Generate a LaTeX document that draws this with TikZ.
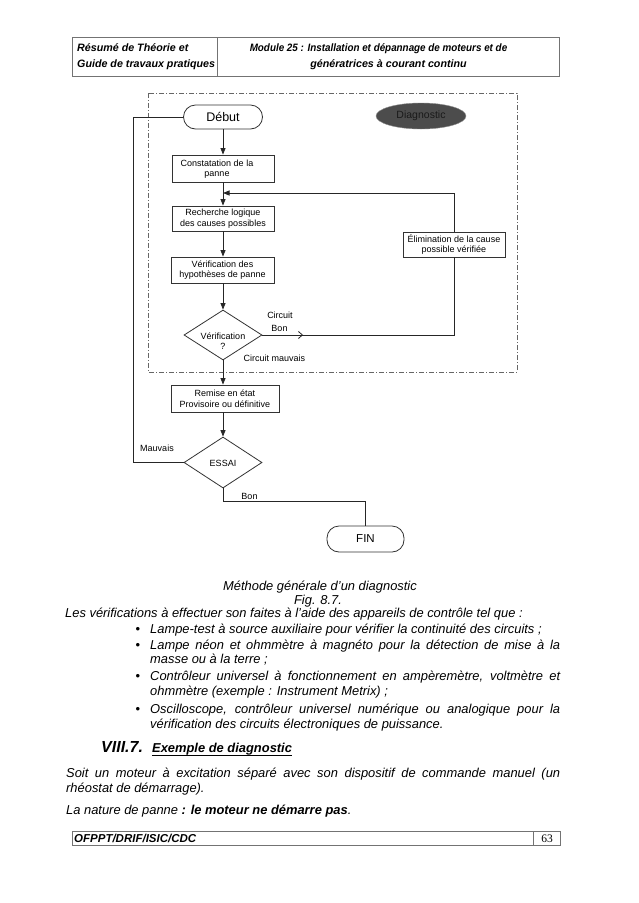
\documentclass[tikz,border=0pt]{standalone}
\usepackage{fontspec}
\setmainfont{Liberation Sans}
\newfontfamily\serifnum{Liberation Serif}
\usetikzlibrary{arrows.meta,shapes.geometric,decorations.markings}
\begin{document}
\begin{tikzpicture}[x=1pt,y=-1pt,
  frameline/.style={draw=black!55,line width=0.7pt},
  box/.style={draw=black!80,line width=0.8pt,align=center,inner sep=1pt,font=\fontsize{9}{10.5}\selectfont},
  term/.style={draw=black!80,line width=0.8pt,rounded corners=12pt,inner sep=0pt},
  dec/.style={diamond,draw=black!80,line width=0.8pt,inner sep=0pt},
  conn/.style={black!85,line width=0.8pt},
  arr/.style={conn,-{Triangle[length=6.5pt,width=5pt]}},
  lbl/.style={font=\fontsize{9}{10.5}\selectfont,inner sep=0pt,align=center},
  body/.style={anchor=base west,inner sep=0pt,font=\fontsize{12.9}{14.5}\selectfont\itshape},
  bodyc/.style={anchor=base,inner sep=0pt,font=\fontsize{12.9}{14.5}\selectfont\itshape},
  hdr/.style={inner sep=0pt,font=\fontsize{10.7}{12}\selectfont\bfseries\itshape},
  bul/.style={anchor=base,inner sep=0pt,font=\fontsize{13}{13}\selectfont},
  midchev/.style={postaction={decorate},decoration={markings,
     mark=at position 40pt with {\draw[conn] (-4pt,-3.5pt) -- (0pt,0pt) -- (-4pt,3.5pt);}}}
]
\useasboundingbox (0,0) rectangle (638,903);
\fill[white] (0,0) rectangle (638,903);

% ---------- header ----------
\draw[frameline] (72,37) rectangle (559,76);
\draw[frameline] (217,37) -- (217,76);
\node[hdr,anchor=base west] (h1) at (77,51) {Résumé de Théorie et};
\node[hdr,anchor=base west] (h2) at (77,67) {Guide de travaux pratiques};
\node[hdr,anchor=base] (h3) at (378.5,51) {\scalebox{0.92}[1]{Module 25 : Installation et dépannage de moteurs et de}};
\node[hdr,anchor=base] (h4) at (388.5,67) {génératrices à courant continu};

% ---------- flowchart ----------
\draw[black!60,line width=0.8pt,dash pattern=on 5pt off 2pt on 1pt off 2pt] (148,93) rectangle (517,372);

\node[term,minimum width=79pt,minimum height=24pt,font=\fontsize{12.5}{13}\selectfont] (deb) at (223,117) {Début};
\node[ellipse,fill=black!70,draw=black!45,minimum width=90pt,minimum height=26pt,inner sep=0pt,text=black!90,font=\fontsize{10.5}{11}\selectfont] (diag) at (421,116) {Diagnostic};

\node[box,minimum width=102pt,minimum height=27pt] (cons) at (223,168.5) {};
\node[lbl] (consT) at (217,169) {Constatation de la\\panne};
\node[box,minimum width=102pt,minimum height=25pt] (rech) at (223,218.5) {Recherche logique\\des causes possibles};
\node[box,minimum width=102pt,minimum height=25pt] (elim) at (454,244.5) {Élimination de la cause\\possible vérifiée};
\node[box,minimum width=103pt,minimum height=26pt] (hyp) at (222.5,270) {Vérification des\\hypothèses de panne};
\node[dec,minimum width=78pt,minimum height=50pt] (vd) at (223,335) {};
\node[lbl] (vdT) at (223,341) {Vérification\\?};
\node[box,minimum width=108pt,minimum height=27pt] (rem) at (225,398.5) {Remise en état\\Provisoire ou définitive};
\node[dec,minimum width=78pt,minimum height=51pt] (ess) at (223,462.5) {};
\node[lbl] (essT) at (223,463) {ESSAI};
\node[term,minimum width=77pt,minimum height=26pt,font=\fontsize{11.5}{12}\selectfont] (fin) at (365.5,539) {FIN};

\coordinate (fb) at (223,193);
\coordinate (lft) at (133,462.5);
\coordinate (bonc) at (223,501);

\draw[arr] (deb.south) -- (cons.north);
\draw[arr] (cons.south) -- (rech.north);
\draw[arr] (rech.south) -- (rech.south |- hyp.north);
\draw[arr] (hyp.south -| vd) -- (vd.north);
\draw[arr] (elim.north) |- (fb);
\draw[conn,midchev] (vd.east) -| (elim.south);
\draw[arr] (vd.south) -- (vd.south |- rem.north);
\draw[arr] (rem.south -| ess) -- (ess.north);
\draw[conn] (ess.west) -- (lft) |- (deb.west);
\draw[conn] (ess.south) -- (bonc) -| (fin.north);

\node[lbl] (lc1) at (280,315) {Circuit};
\node[lbl] (lc2) at (279.5,328) {Bon};
\node[lbl] (lcm) at (274.5,358) {Circuit mauvais};
\node[lbl] (lmv) at (157,448) {Mauvais};
\node[lbl] (lbn) at (249.5,496) {Bon};

% ---------- caption and text ----------
\node[bodyc] (cap1) at (320,590) {Méthode générale d'un diagnostic};
\node[bodyc] (cap2) at (318,604) {Fig. 8.7.};
\node[body] (p1) at (65,617) {Les vérifications à effectuer son faites à l'aide des appareils de contrôle tel que :};

\node[bul] (b1) at (138,633) {•};
\node[body] (t1) at (150,633) {Lampe-test à source auxiliaire pour vérifier la continuité des circuits ;};
\node[bul] (b2) at (138,649) {•};
\node[body] (t2a) at (150,649) {\makebox[410pt][s]{Lampe néon et ohmmètre à magnéto pour la détection de mise à la}};
\node[body] (t2b) at (150,663.5) {masse ou à la terre ;};
\node[bul] (b3) at (138,680.5) {•};
\node[body] (t3a) at (150,680.5) {\makebox[410pt][s]{Contrôleur universel à fonctionnement en ampèremètre, voltmètre et}};
\node[body] (t3b) at (150,695.5) {ohmmètre (exemple : Instrument Metrix) ;};
\node[bul] (b4) at (138,713) {•};
\node[body] (t4a) at (150,713) {\makebox[410pt][s]{Oscilloscope, contrôleur universel numérique ou analogique pour la}};
\node[body] (t4b) at (150,728) {vérification des circuits électroniques de puissance.};

\node[anchor=base west,inner sep=0pt,font=\fontsize{16}{17}\selectfont\bfseries\itshape] (sec) at (101,752.5) {VIII.7.};
\node[anchor=base west,inner sep=0pt,font=\fontsize{12.9}{14}\selectfont\bfseries\itshape] (sect) at (152,752.5) {Exemple de diagnostic};
\draw[black,line width=0.9pt] ([yshift=-2.8pt]sect.base west) -- ([yshift=-2.8pt]sect.base east);

\node[body] (s1) at (66,777) {\makebox[494pt][s]{Soit un moteur à excitation séparé avec son dispositif de commande manuel (un}};
\node[body] (s2) at (66,792) {rhéostat de démarrage).};
\node[body] (s3) at (66,814) {La nature de panne \textbf{: le moteur ne démarre pas}.};

% ---------- footer ----------
\draw[frameline] (72,831) rectangle (560,845);
\draw[frameline] (533,831) -- (533,845);
\node[anchor=base west,inner sep=0pt,font=\fontsize{11.5}{12}\selectfont\bfseries\itshape] (ft) at (74,842) {OFPPT/DRIF/ISIC/CDC};
\node[anchor=base,inner sep=0pt,font=\fontsize{11.5}{12}\serifnum] (pg) at (547,842) {63};
\end{tikzpicture}
\end{document}
